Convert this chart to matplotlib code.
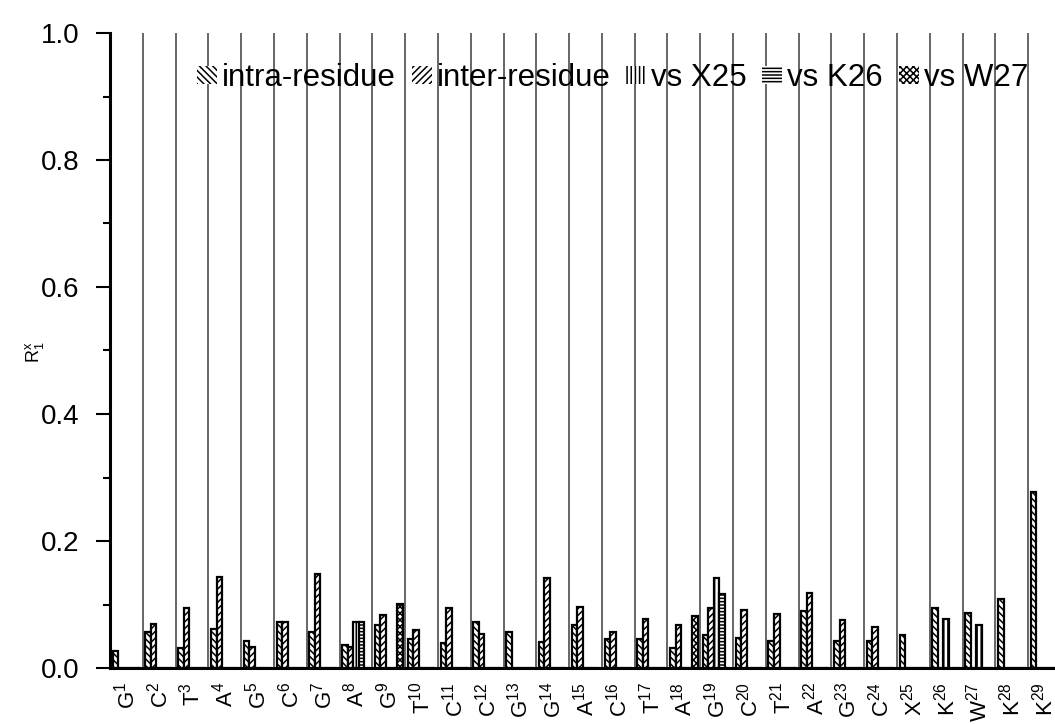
import numpy as np
import matplotlib
matplotlib.use("Agg")
from matplotlib import pyplot as plt
from matplotlib.patches import Patch
from matplotlib.ticker import MultipleLocator, FormatStrFormatter

nan = np.nan

# residues along the sequence and their numbers
residues = ["G", "C", "T", "A", "G", "C", "G", "A", "G", "T", "C", "C", "G", "G", "A",
            "C", "T", "A", "G", "C", "T", "A", "G", "C", "X", "K", "W", "K", "K"]
res_num = list(range(1, 30))

# R1^x values per residue (nan = no bar)
intra = [0.027, 0.056, 0.031, 0.062, 0.042, 0.073, 0.056, 0.037, 0.067, 0.045,
         0.039, 0.073, 0.057, 0.041, 0.068, 0.046, 0.045, 0.031, 0.052, 0.048,
         0.043, 0.090, 0.042, 0.043, 0.052, 0.094, 0.086, 0.109, 0.277]
inter = [nan, 0.070, 0.094, 0.143, 0.033, 0.072, 0.148, 0.033, 0.083, 0.060,
         0.094, 0.054, nan, 0.142, 0.096, 0.057, 0.077, 0.068, 0.094, 0.091,
         0.085, 0.118, 0.076, 0.065, nan, nan, nan, nan, nan]
vs_x25 = [nan] * 7 + [0.073] + [nan] * 10 + [0.142] + [nan] * 6 + [0.077, 0.068] + [nan] * 2
vs_k26 = [nan] * 7 + [0.073] + [nan] * 10 + [0.117] + [nan] * 10
vs_w27 = [nan] * 8 + [0.101] + [nan] * 8 + [0.082] + [nan] * 11

series = [("intra-residue", intra, "\\\\\\\\\\"),
          ("inter-residue", inter, "/////"),
          ("vs X25", vs_x25, "||||"),
          ("vs K26", vs_k26, "-----"),
          ("vs W27", vs_w27, "xxxxx")]

plt.rcParams.update({"font.family": ["Liberation Sans", "DejaVu Sans"],
                     "mathtext.fontset": "custom",
                     "mathtext.rm": "Liberation Sans",
                     "hatch.linewidth": 1.1})

fig = plt.figure(figsize=(10.55, 7.24), dpi=100)
ax = fig.add_axes([110 / 1055, 56 / 724, 951 / 1055, 635 / 724])

x = np.array(res_num, dtype=float)
ax.vlines(np.arange(0.5, 30, 1), 0, 1, color="#666666", lw=1.4, zorder=1)

w = 0.168
off = 0.08
for k, (lab, vals, hatch) in enumerate(series):
    left = x - 0.5 + off + k * w
    ax.bar(left, np.nan_to_num(np.array(vals, dtype=float)), width=w, align="edge",
           facecolor="white", edgecolor="black", hatch=hatch, lw=1.6, zorder=3)

ax.set_xlim(0.5, 29.5)
ax.set_ylim(0, 1.0)
ax.yaxis.set_major_locator(MultipleLocator(0.2))
ax.yaxis.set_minor_locator(MultipleLocator(0.1))
ax.yaxis.set_major_formatter(FormatStrFormatter("%.1f"))
ax.tick_params(axis="y", which="major", length=10, width=1.5, pad=12, labelsize=20)
ax.tick_params(axis="y", which="minor", length=5, width=1.5)
ax.set_xticks(x)
ax.set_xticklabels([rf"$\mathregular{{{r}^{{{n}}}}}$" for r, n in zip(residues, res_num)],
                   rotation=90, fontsize=16)
ax.tick_params(axis="x", length=0, pad=10)
for s in ("top", "right"):
    ax.spines[s].set_visible(False)
ax.spines["left"].set_linewidth(2.2)
ax.spines["bottom"].set_linewidth(2.2)

fig.text(34 / 1055, 1 - 352 / 724, r"$\mathregular{R_1^x}$", rotation=90,
         ha="center", va="center", fontsize=13)

handles = [Patch(facecolor="white", edgecolor="black", hatch=h, lw=0) for _, _, h in series]
ax.legend(handles, [s[0] for s in series], loc="center left", ncol=5,
          bbox_to_anchor=(197 / 1055, 1 - 78 / 724), bbox_transform=fig.transFigure,
          frameon=False, fontsize=22.5, handlelength=0.64, handleheight=0.5,
          handletextpad=0.16, columnspacing=0.5, borderpad=0, borderaxespad=0)

fig.savefig("out.png", dpi=100)
